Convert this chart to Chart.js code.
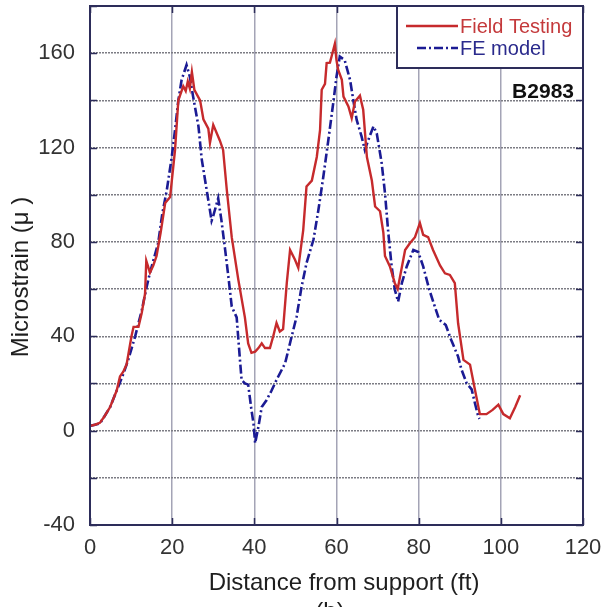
<!DOCTYPE html>
<html>
<head>
<meta charset="utf-8">
<script src="https://cdn.jsdelivr.net/npm/chart.js@4/dist/chart.umd.min.js"></script>
<style>
  html, body { margin: 0; padding: 0; background: #ffffff; }
  #wrap { width: 613px; height: 607px; overflow: hidden; }
</style>
</head>
<body>
<div id="wrap"><canvas id="chart" width="613" height="607"></canvas></div>
<script>
// Measured strain along the girder (field test)
const fieldDistance = [0, 1.2, 2.4, 3.5, 4.9, 6.5, 7.3, 8.1, 8.9, 10.1, 10.6, 11.8, 12.6, 13.4, 13.7, 14.6, 15.4, 16.2, 17.2, 18.3, 19.5, 20.7, 21.5, 22.7, 23.3, 23.8, 24.3, 24.8, 25.4, 26.8, 27.6, 28.8, 29.2, 30.0, 31.6, 32.4, 33.3, 34.5, 36.1, 37.7, 38.5, 39.3, 40.2, 41.0, 41.8, 42.6, 43.8, 44.6, 45.4, 46.2, 47.0, 47.9, 48.7, 49.9, 50.7, 51.9, 52.7, 54.0, 55.2, 56.0, 56.4, 57.2, 57.6, 58.4, 58.8, 59.6, 60.0, 60.4, 61.3, 61.7, 62.9, 63.7, 64.5, 65.7, 66.5, 67.4, 68.6, 69.4, 70.6, 71.4, 71.8, 73.0, 74.2, 74.9, 76.7, 77.9, 79.1, 80.3, 81.1, 82.3, 83.5, 85.2, 86.4, 87.6, 88.8, 89.6, 90.9, 92.5, 93.7, 94.9, 96.5, 98.0, 99.4, 100.6, 102.2, 103.5, 104.7];
const fieldStrain = [2, 2.5, 3.3, 6, 10, 17, 23, 25, 28, 40, 44, 44, 50, 58, 72, 67, 70, 74, 84, 96.5, 99, 119, 140, 146, 144, 148, 145, 152, 144.5, 140, 132, 128, 122, 129.6, 123, 119, 102, 82, 64, 48, 37, 33, 33.5, 35, 37, 35, 35, 40, 45.6, 42, 43, 62.6, 76.6, 72.4, 69, 85, 103.5, 106, 116, 127.5, 144.5, 147, 155.8, 156, 158.6, 164, 157, 153, 148.7, 141.6, 137.4, 132.5, 139.5, 142, 136, 116, 106, 95, 93, 84, 74, 69.6, 62.5, 60, 76.6, 79.5, 82, 88, 83, 82, 76.6, 70, 66.7, 66, 62.5, 45.5, 30, 28, 17.3, 7, 7, 8.8, 11, 7, 5.2, 10, 15];

// Finite element prediction
const feDistance = [0, 1.2, 2.4, 3.5, 4.9, 6.9, 8.1, 9.3, 11.0, 12.6, 13.8, 14.6, 16.6, 17.6, 18.7, 19.9, 20.7, 21.5, 22.3, 23.5, 24.3, 25.1, 26.4, 27.2, 28.4, 29.6, 30.0, 31.2, 32.0, 32.9, 33.7, 34.5, 35.7, 36.5, 36.9, 37.7, 38.5, 39.3, 39.8, 40.2, 41.0, 41.8, 43.0, 44.2, 45.4, 47.5, 49.1, 50.3, 51.5, 52.7, 54.4, 55.6, 56.8, 58.0, 59.2, 60.0, 60.8, 62.0, 63.3, 64.1, 64.9, 66.1, 66.9, 67.7, 69.0, 69.8, 71.0, 71.8, 72.6, 73.4, 74.2, 75.0, 75.9, 77.1, 78.7, 79.9, 81.1, 82.6, 83.8, 85.0, 86.6, 87.9, 89.6, 90.4, 91.7, 92.9, 93.7, 94.5, 94.8];
const feStrain = [2, 2.5, 3, 6, 10, 18.7, 24, 30, 40, 51, 61, 67, 79.5, 92, 102, 116, 127.5, 140, 148.7, 155, 150, 141.6, 129, 115, 102, 89, 91, 98.5, 89, 76.6, 65, 52.6, 48, 30, 21.5, 20, 19.5, 8.8, 3, -5.3, 1.7, 10, 13, 17, 21.5, 28.6, 40, 48.4, 61, 71, 81, 93.6, 107.7, 123, 138.8, 150, 158.6, 157, 148.7, 140, 131.8, 124.7, 119, 123, 129, 126, 113.4, 100.7, 84, 70, 59.7, 54.7, 62.5, 69.6, 76.6, 75.7, 69.6, 59.7, 53.3, 47, 44.8, 38.5, 31.4, 26, 20, 17.5, 11.6, 6, 5];

const seriesNames = ['Field Testing', 'FE model'];
const xTickValues = [0, 20, 40, 60, 80, 100, 120];
const yLabelValues = [-40, 0, 40, 80, 120, 160];
const specimenLabel = 'B2983';

const RED = '#c62a2c';
const BLUE = '#1b1b94';
const FRAME = '#2d2d5a';
const FONT = '"Liberation Sans", Arial, Helvetica, sans-serif';

const toPoints = (xs, ys) => xs.map((x, i) => ({ x, y: ys[i] }));

// Frame, inner tick marks, axis titles, legend box and specimen tag
const decorations = {
  id: 'decorations',
  afterDatasetsDraw(chart) {
    const { ctx, chartArea: a, scales } = chart;
    ctx.save();
    // inner tick marks
    ctx.strokeStyle = FRAME;
    ctx.lineWidth = 1.5;
    ctx.beginPath();
    scales.y.ticks.forEach(t => {
      const py = Math.round(scales.y.getPixelForValue(t.value)) + 0.5;
      ctx.moveTo(a.left, py); ctx.lineTo(a.left + 7, py);
      ctx.moveTo(a.right, py); ctx.lineTo(a.right - 7, py);
    });
    scales.x.ticks.forEach(t => {
      const px = Math.round(scales.x.getPixelForValue(t.value)) + 0.5;
      ctx.moveTo(px, a.bottom); ctx.lineTo(px, a.bottom - 7);
      ctx.moveTo(px, a.top); ctx.lineTo(px, a.top + 7);
    });
    ctx.stroke();
    // plot frame
    ctx.lineWidth = 2;
    ctx.strokeRect(a.left, a.top, a.right - a.left, a.bottom - a.top);
    ctx.restore();
  },
  afterDraw(chart) {
    const { ctx, chartArea: a } = chart;
    ctx.save();
    // axis titles
    ctx.fillStyle = '#1e1e1e';
    ctx.font = '24px ' + FONT;
    ctx.textAlign = 'center';
    ctx.textBaseline = 'middle';
    ctx.fillText('Distance from support (ft)', 344, 583);
    ctx.fillText('(b)', 330, 612);
    ctx.save();
    ctx.translate(21, 277);
    ctx.rotate(-Math.PI / 2);
    ctx.fillText('Microstrain (\u03bc )', 0, 0);
    ctx.restore();

    // legend box in the top-right corner of the plot
    const bx = 397, by = a.top, bw = a.right - bx, bh = 62;
    ctx.fillStyle = '#ffffff';
    ctx.fillRect(bx, by, bw, bh);
    ctx.strokeStyle = FRAME;
    ctx.lineWidth = 2;
    ctx.strokeRect(bx, by, bw, bh);
    const ds = chart.data.datasets;
    const rows = [by + 20, by + 42];
    ctx.font = '20px ' + FONT;
    ctx.textAlign = 'left';
    ds.forEach((d, i) => {
      ctx.strokeStyle = d.borderColor;
      ctx.lineWidth = d.borderWidth;
      ctx.setLineDash(d.borderDash || []);
      ctx.beginPath();
      ctx.moveTo(i === 0 ? 406 : 417, rows[i]);
      ctx.lineTo(458, rows[i]);
      ctx.stroke();
      ctx.setLineDash([]);
      ctx.fillStyle = i === 0 ? '#c4393b' : '#2a2a8c';
      ctx.fillText(d.label, 460, rows[i] + 1);
    });

    // specimen tag
    ctx.fillStyle = '#111111';
    ctx.font = 'bold 21px ' + FONT;
    ctx.textAlign = 'right';
    ctx.fillText(specimenLabel, 574, 92);
    ctx.restore();
  }
};

new Chart(document.getElementById('chart'), {
  type: 'line',
  data: {
    datasets: [
      {
        label: seriesNames[0],
        data: toPoints(fieldDistance, fieldStrain),
        borderColor: RED,
        borderWidth: 2.4,
        pointRadius: 0,
        tension: 0,
        fill: false
      },
      {
        label: seriesNames[1],
        data: toPoints(feDistance, feStrain),
        borderColor: BLUE,
        borderWidth: 2.6,
        borderDash: [9, 3, 2, 3],
        pointRadius: 0,
        tension: 0,
        fill: false
      }
    ]
  },
  options: {
    responsive: false,
    devicePixelRatio: 1,
    animation: false,
    layout: { padding: { left: 0, top: 6, right: 30, bottom: 0 } },
    plugins: { legend: { display: false }, tooltip: { enabled: false } },
    scales: {
      x: {
        type: 'linear',
        min: 0,
        max: 120,
        afterFit(scale) {
          scale.height = 82;
          scale.paddingLeft = 0; scale.paddingRight = 0;
        },
        afterBuildTicks(scale) { scale.ticks = xTickValues.map(v => ({ value: v })); },
        ticks: {
          padding: 10,
          color: '#333333',
          font: { family: FONT, size: 22 },
          maxRotation: 0,
          callback: v => String(v)
        },
        grid: { color: '#a4a4b6', lineWidth: 1.5, drawTicks: false },
        border: { display: false }
      },
      y: {
        min: -40,
        max: 180,
        afterFit(scale) {
          scale.width = 90;
          scale.paddingTop = 0; scale.paddingBottom = 0;
        },
        ticks: {
          stepSize: 20,
          padding: 15,
          color: '#333333',
          font: { family: FONT, size: 22 },
          callback: v => (yLabelValues.includes(v) ? String(v) : '')
        },
        grid: { color: '#7c7c84', lineWidth: 1.5, drawTicks: false },
        border: { display: false, dash: [2, 1] }
      }
    }
  },
  plugins: [decorations]
});
</script>
</body>
</html>
